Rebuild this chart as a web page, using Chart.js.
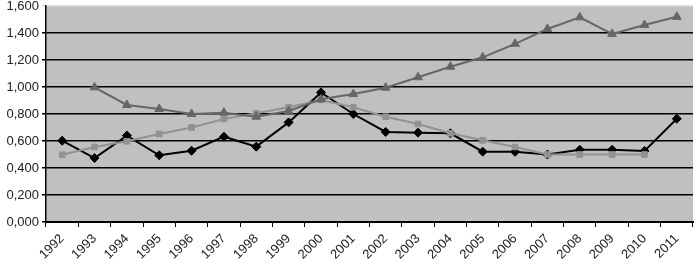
<!DOCTYPE html>
<html>
<head>
<meta charset="utf-8">
<script src="https://cdn.jsdelivr.net/npm/chart.js@4/dist/chart.umd.min.js"></script>
<style>
  html, body { margin: 0; padding: 0; background: #fff; }
  #wrap { width: 699px; height: 268px; position: relative; }
</style>
</head>
<body>
<div id="wrap"><canvas id="chart"></canvas></div>
<script>
// categories and series
const years = ['1992', '1993', '1994', '1995', '1996', '1997', '1998', '1999', '2000', '2001',
    '2002', '2003', '2004', '2005', '2006', '2007', '2008', '2009', '2010', '2011'];
const diamonds = [0.602, 0.474, 0.640, 0.494, 0.528, 0.632, 0.558, 0.738, 0.960, 0.800,
    0.667, 0.662, 0.657, 0.521, 0.520, 0.500, 0.535, 0.535, 0.526, 0.765];
const squares = [0.498, 0.556, 0.598, 0.652, 0.700, 0.763, 0.805, 0.850, 0.904, 0.850,
    0.780, 0.726, 0.657, 0.605, 0.556, 0.500, 0.500, 0.500, 0.500, null];
const triangles = [null, 0.998, 0.867, 0.837, 0.800, 0.810, 0.780, 0.822, 0.909, 0.948,
    0.995, 1.072, 1.150, 1.220, 1.320, 1.430, 1.516, 1.393, 1.459, 1.520];
const yTicks = [0, 0.2, 0.4, 0.6, 0.8, 1.0, 1.2, 1.4, 1.6];

(function () {
    const ctx = document.getElementById('chart');

    // grey plot area
    const plotBackground = {
        id: 'plotBackground',
        beforeDraw(chart) {
            const a = chart.chartArea;
            const c = chart.ctx;
            c.save();
            c.fillStyle = '#c0c0c0';
            c.fillRect(a.left, a.top, a.right - a.left, a.bottom - a.top);
            c.restore();
        }
    };

    function series(label, data, color, style, radius) {
        return {
            label: label,
            data: data,
            borderColor: color,
            backgroundColor: color,
            borderWidth: 2,
            pointStyle: style,
            pointRadius: radius,
            pointHoverRadius: radius,
            pointBorderWidth: 1,
            tension: 0,
            spanGaps: false,
        };
    }

    new Chart(ctx, {
        type: 'line',
        data: {
            labels: years,
            datasets: [
                series('triangles', triangles, '#666666', 'triangle', 5),
                series('squares', squares, '#929292', 'rect', 4),
                series('diamonds', diamonds, '#000000', 'rectRot', 4.5),
            ]
        },
        plugins: [plotBackground],
        options: {
            responsive: true,
            maintainAspectRatio: false,
            animation: false,
            layout: { padding: { top: 0, right: 2, left: 0, bottom: 0 } },
            plugins: {
                legend: { display: false },
                tooltip: { enabled: false },
            },
            scales: {
                x: {
                    offset: true,
                    grid: {
                        drawOnChartArea: false,
                        drawTicks: true,
                        tickLength: 5,
                        color: '#000',
                        offset: true,
                    },
                    border: { color: '#000', width: 2 },
                    ticks: {
                        autoSkip: false,
                        maxRotation: 45,
                        minRotation: 45,
                        padding: 4,
                        color: '#222',
                        font: { family: 'Liberation Sans', size: 13 },
                    },
                    afterFit(scale) { scale.height = 46; },
                },
                y: {
                    min: 0,
                    max: 1.6,
                    afterBuildTicks(scale) {
                        scale.ticks = yTicks.map(v => ({ value: v }));
                    },
                    grid: {
                        color: ctx => ctx.tick && ctx.tick.value === 1.6 ? '#e0e0e0' : '#000',
                        lineWidth: 1.5,
                        tickLength: 4,
                    },
                    border: { color: '#000', width: 1.5 },
                    ticks: {
                        padding: 3,
                        color: '#222',
                        font: { family: 'Liberation Sans', size: 13 },
                        callback: v => v.toFixed(3).replace('.', ','),
                    },
                    afterFit(scale) {
                        scale.width = 46;
                        scale.paddingTop = 6;
                    },
                }
            }
        }
    });
})();
</script>
</body>
</html>
